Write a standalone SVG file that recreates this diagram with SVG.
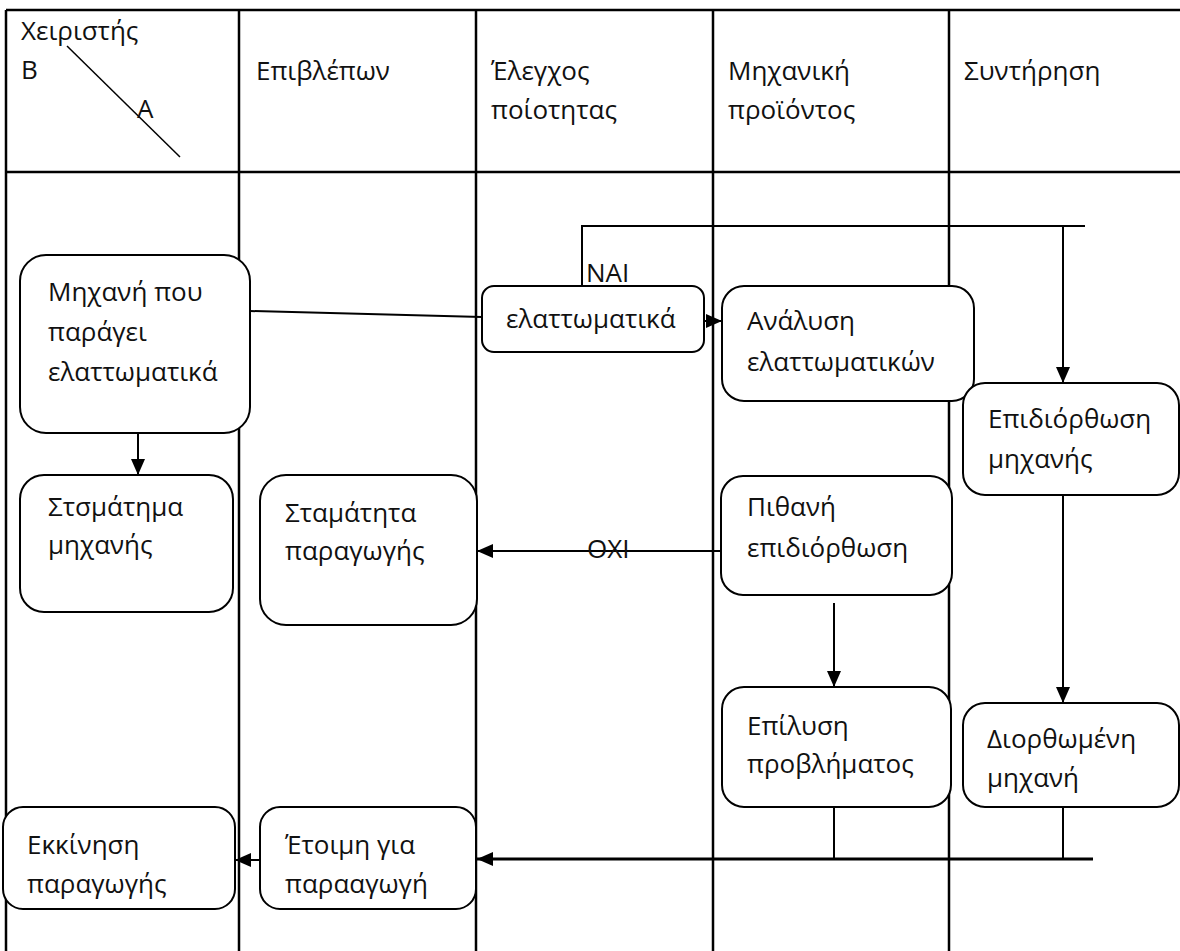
<svg xmlns="http://www.w3.org/2000/svg" width="1180" height="951" viewBox="0 0 1180 951">
  <style>
    text { font-family: "Open Sans", "Noto Sans", "DejaVu Sans", sans-serif; font-size: 26px; fill: #111; }
    .grid { stroke: #000; stroke-width: 2.5; fill: none; }
    .box { fill: #fff; stroke: #000; stroke-width: 2; }
    .wire { stroke: #000; stroke-width: 2; fill: none; }
    .arrow { stroke: #000; stroke-width: 2; fill: none; marker-end: url(#head); }
    .thick { stroke-width: 3; }
  </style>
  <defs>
    <marker id="head" markerUnits="userSpaceOnUse" markerWidth="16" markerHeight="14" refX="16" refY="7" orient="auto">
      <path d="M0,0 L16,7 L0,14 z" fill="#000"/>
    </marker>
  </defs>
  <rect width="1180" height="951" fill="#fff"/>

  <!-- swimlane table -->
  <g id="lanes">
    <path class="grid" d="M6,10 H1180 M6,172 H1180 M6,10 V951 M239,10 V951 M476,10 V951 M713,10 V951 M949,10 V951"/>
    <line x1="67" y1="46" x2="180" y2="157" stroke="#000" stroke-width="1.5"/>
    <text x="21" y="40">Χειριστής</text>
    <text x="21" y="79">Β</text>
    <text x="137" y="118">Α</text>
    <text x="256" y="80">Επιβλέπων</text>
    <text x="491" y="80">Έλεγχος</text>
    <text x="491" y="119">ποίοτητας</text>
    <text x="728" y="80">Μηχανική</text>
    <text x="728" y="119">προϊόντος</text>
    <text x="964" y="80">Συντήρηση</text>
  </g>

  <!-- connectors -->
  <g id="connectors">
    <line class="wire" x1="250" y1="311" x2="482" y2="317"/>
    <line class="arrow" x1="138" y1="433" x2="138" y2="475"/>
    <line class="arrow" x1="704" y1="321" x2="722" y2="321"/>
    <polyline class="wire" points="582,286 582,226 1085,226"/>
    <line class="arrow" x1="1063" y1="226" x2="1063" y2="383"/>
    <line class="arrow" x1="721" y1="551" x2="477" y2="551"/>
    <line class="arrow" x1="834" y1="603" x2="834" y2="687"/>
    <line class="arrow" x1="1063" y1="495" x2="1063" y2="703"/>
    <path class="wire" d="M834,807 V859 M1063,807 V859"/>
    <line class="arrow thick" x1="1093" y1="859" x2="477" y2="859"/>
    <line class="arrow" x1="260" y1="860" x2="235" y2="860"/>
    <text x="586" y="282">ΝΑΙ</text>
    <text x="587" y="558">ΟΧΙ</text>
  </g>

  <!-- process boxes -->
  <g id="n-machine-defects">
    <rect class="box" x="20" y="255" width="230" height="178" rx="26"/>
    <text x="48" y="301">Μηχανή που</text>
    <text x="48" y="341">παράγει</text>
    <text x="48" y="381">ελαττωματικά</text>
  </g>
  <g id="n-stop-machine">
    <rect class="box" x="20" y="475" width="213" height="137" rx="24"/>
    <text x="48" y="516">Στσμάτημα</text>
    <text x="48" y="554">μηχανής</text>
  </g>
  <g id="n-stop-production">
    <rect class="box" x="260" y="475" width="217" height="150" rx="26"/>
    <text x="285" y="522">Σταμάτητα</text>
    <text x="285" y="560">παραγωγής</text>
  </g>
  <g id="n-defective">
    <rect class="box" x="482" y="286" width="222" height="66" rx="12"/>
    <text x="506" y="328">ελαττωματικά</text>
  </g>
  <g id="n-analysis">
    <rect class="box" x="722" y="286" width="252" height="115" rx="22"/>
    <text x="747" y="330">Ανάλυση</text>
    <text x="747" y="371">ελαττωματικών</text>
  </g>
  <g id="n-repair">
    <rect class="box" x="963" y="383" width="216" height="112" rx="22"/>
    <text x="988" y="428">Επιδιόρθωση</text>
    <text x="988" y="468">μηχανής</text>
  </g>
  <g id="n-possible-fix">
    <rect class="box" x="721" y="476" width="231" height="119" rx="22"/>
    <text x="747" y="516">Πιθανή</text>
    <text x="747" y="557">επιδιόρθωση</text>
  </g>
  <g id="n-solve">
    <rect class="box" x="722" y="687" width="229" height="120" rx="22"/>
    <text x="747" y="735">Επίλυση</text>
    <text x="747" y="773">προβλήματος</text>
  </g>
  <g id="n-fixed">
    <rect class="box" x="963" y="703" width="216" height="104" rx="22"/>
    <text x="987" y="748">Διορθωμένη</text>
    <text x="987" y="787">μηχανή</text>
  </g>
  <g id="n-ready">
    <rect class="box" x="260" y="807" width="216" height="102" rx="20"/>
    <text x="285" y="854">Έτοιμη για</text>
    <text x="285" y="893">παρααγωγή</text>
  </g>
  <g id="n-start">
    <rect class="box" x="3" y="807" width="232" height="102" rx="20"/>
    <text x="27" y="854">Εκκίνηση</text>
    <text x="27" y="893">παραγωγής</text>
  </g>
</svg>
